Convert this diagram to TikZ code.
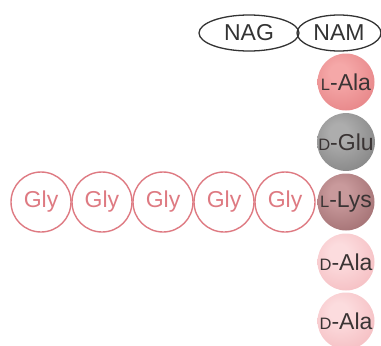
\documentclass[tikz,border=0pt]{standalone}
\usepackage{fontspec}
\setmainfont{Liberation Sans}
\usetikzlibrary{shapes.geometric}

% sphere colours: light centre, darker rim
\definecolor{alaIn}{HTML}{F5A8A8}\definecolor{alaOut}{HTML}{DF7276}
\definecolor{gluIn}{HTML}{ADADAD}\definecolor{gluOut}{HTML}{707070}
\definecolor{lysIn}{HTML}{C99A9C}\definecolor{lysOut}{HTML}{8E5A5D}
\definecolor{dalIn}{HTML}{FCDCDE}\definecolor{dalOut}{HTML}{F1AEB3}
\definecolor{glyRed}{HTML}{DE7A82}
\definecolor{sugarInk}{HTML}{333333}
\definecolor{ballInk}{HTML}{3A3434}

\newcommand\mkball[3]{%
  \pgfdeclareradialshading{#1}{\pgfpoint{-7bp}{9bp}}{%
    color(0bp)=(#2); color(8bp)=(#2); color(48bp)=(#3); color(70bp)=(#3)}}
\mkball{ballAla}{alaIn}{alaOut}
\mkball{ballGlu}{gluIn}{gluOut}
\mkball{ballLys}{lysIn}{lysOut}
\mkball{ballDal}{dalIn}{dalOut}

% small capital prefix letter (L- / D-)
\newcommand\smcap[1]{{\fontsize{16.5}{16.5}\selectfont #1}}

\tikzset{
  txt/.style={font=\fontsize{23}{23}\selectfont},
  sugar/.style={txt, ellipse, draw=sugarInk, line width=1.3pt, text=sugarInk,
    minimum width=100pt, minimum height=36pt, inner sep=0pt},
  gly/.style={txt, circle, draw=glyRed, line width=1.4pt, text=glyRed,
    minimum size=60pt, inner sep=0pt},
  ball/.style={txt, circle, minimum size=57pt, inner sep=0pt, text=ballInk}
}

\begin{document}
\begin{tikzpicture}[x=1pt, y=-1pt]
  \useasboundingbox (0,0) rectangle (381,346);
  \clip (0,0) rectangle (381,346);

  % glycan backbone
  \node[sugar] (nag) at (249,33) {NAG};
  \node[sugar, minimum width=84pt] (nam) at (339,33) {NAM};

  % stem peptide
  \node[ball, shading=ballAla] (lala) at (346,82)  {\smcap{L}-Ala};
  \node[ball, shading=ballGlu] (dglu) at (346,142) {\smcap{D}-Glu};
  \node[ball, shading=ballLys] (llys) at (346,202) {\smcap{L}-Lys};
  \node[ball, shading=ballDal] (dala1) at (346,262) {\smcap{D}-Ala};
  \node[ball, shading=ballDal] (dala2) at (346,321) {\smcap{D}-Ala};

  % pentaglycine bridge
  \node[gly] (g1) at (41,202)  {Gly};
  \node[gly] (g2) at (102,202) {Gly};
  \node[gly] (g3) at (163,202) {Gly};
  \node[gly] (g4) at (224,202) {Gly};
  \node[gly] (g5) at (285,202) {Gly};
\end{tikzpicture}
\end{document}
